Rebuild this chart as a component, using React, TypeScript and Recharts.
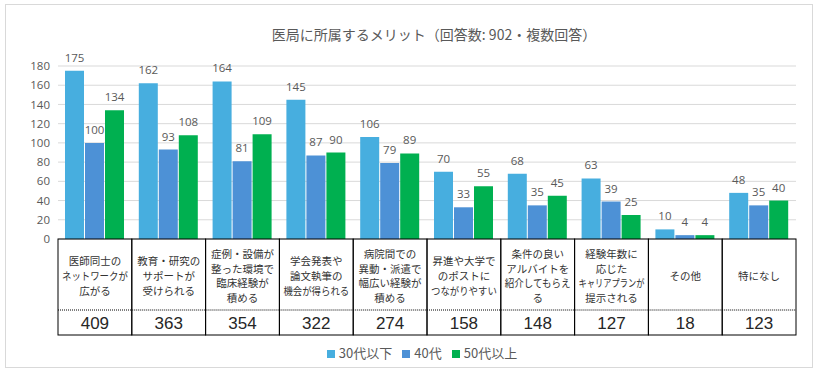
import React from "react";
import { BarChart, Bar, XAxis, YAxis, CartesianGrid, LabelList, Legend } from "recharts";

const categories = [
  "医師同士の\nネットワークが\n広がる",
  "教育・研究の\nサポートが\n受けられる",
  "症例・設備が\n整った環境で\n臨床経験が\n積める",
  "学会発表や\n論文執筆の\n機会が得られる",
  "病院間での\n異動・派遣で\n幅広い経験が\n積める",
  "昇進や大学で\nのポストに\nつながりやすい",
  "条件の良い\nアルバイトを\n紹介してもらえ\nる",
  "経験年数に\n応じた\nキャリアプランが\n提示される",
  "その他",
  "特になし",
];
const under30s = [175, 162, 164, 145, 106, 70, 68, 63, 10, 48];
const forties = [100, 93, 81, 87, 79, 33, 35, 39, 4, 35];
const over50s = [134, 108, 109, 90, 89, 55, 45, 25, 4, 40];
const totals = [409, 363, 354, 322, 274, 158, 148, 127, 18, 123];
const yTicks = [0, 20, 40, 60, 80, 100, 120, 140, 160, 180];

const title = "医局に所属するメリット（回答数: 902・複数回答）";

const data = categories.map((c, i) => ({
  name: c,
  a: under30s[i],
  b: forties[i],
  c: over50s[i],
  total: totals[i],
}));

const FONT = '"Noto Sans CJK JP", "Noto Sans", sans-serif';
const NUM_FONT = '"Open Sans", "Noto Sans", sans-serif';
const TOTAL_FONT = '"Liberation Sans", "DejaVu Sans", sans-serif';
const W = 820;
const H = 374;
const M = { top: 66, right: 24, left: 18, bottom: 12 };
const CELL_W = (W - M.left - 40 - M.right) / categories.length;
const TABLE_H = 96;
const LABEL_H = 71;

const estWidth = (s: string, fs: number) => {
  let w = 0;
  for (const ch of s) w += ch.charCodeAt(0) < 256 ? fs * 0.55 : fs;
  return w;
};

const TableTick = (props: any) => {
  const { x, y, payload } = props;
  const idx = payload.index;
  const lines = String(payload.value).split("\n");
  const fs = 10.5;
  const lh = 14.7;
  const cy = y + LABEL_H / 2 + 1;
  const startY = cy - ((lines.length - 1) * lh) / 2;
  const left = x - CELL_W / 2;
  return (
    <g>
      <rect x={left} y={y} width={CELL_W} height={TABLE_H} fill="none" stroke="#000" strokeWidth={1} />
      {lines.map((ln, i) => {
        const w = estWidth(ln, fs);
        const extra = w > CELL_W - 6 ? { textLength: CELL_W - 8, lengthAdjust: "spacingAndGlyphs" } : {};
        return (
          <text
            key={i}
            x={x}
            y={startY + i * lh}
            textAnchor="middle"
            dominantBaseline="central"
            fontSize={fs}
            fill="#333"
            fontFamily={FONT}
            {...(extra as any)}
          >
            {ln}
          </text>
        );
      })}
      <line x1={left} x2={left + CELL_W} y1={y + LABEL_H} y2={y + LABEL_H} stroke="#000" strokeWidth={1} strokeDasharray="1 1" />
      <text
        x={x}
        y={y + LABEL_H + (TABLE_H - LABEL_H) / 2 + 1}
        textAnchor="middle"
        dominantBaseline="central"
        fontSize={17}
        fill="#262626"
        fontFamily={TOTAL_FONT}
      >
        {totals[idx]}
      </text>
    </g>
  );
};

const labelStyle = { fill: "#595959", fontSize: 11.5, fontFamily: NUM_FONT };

export default function App() {
  return (
    <div style={{ position: "absolute", left: 0, top: 0, width: W, height: H, background: "#fff", fontFamily: FONT }}>
      <div
        style={{
          position: "absolute",
          left: 5,
          top: 4,
          width: 808,
          height: 364,
          border: "1px solid #D9D9D9",
          boxSizing: "border-box",
        }}
      />
      <div
        style={{
          position: "absolute",
          left: 0,
          width: W,
          top: 24,
          textAlign: "center",
          paddingLeft: 48,
          boxSizing: "border-box",
          fontSize: 14,
          color: "#595959",
          fontFamily: FONT,
          lineHeight: "20px",
        }}
      >
        {title}
      </div>
      <div style={{ position: "absolute", left: 0, top: 0 }}>
        <BarChart width={W} height={H} data={data} margin={M} barCategoryGap={7} barGap={1}>
          <CartesianGrid horizontal vertical={false} stroke="#D9D9D9" />
          <XAxis
            dataKey="name"
            axisLine={false}
            tickLine={false}
            tickSize={0}
            tickMargin={0}
            height={104}
            interval={0}
            tick={<TableTick />}
          />
          <YAxis
            domain={[0, 180]}
            ticks={yTicks}
            interval={0}
            axisLine={false}
            tickLine={false}
            width={40}
            tick={{ fill: "#595959", fontSize: 11.5, fontFamily: NUM_FONT }}
          />
          <Legend
            verticalAlign="bottom"
            align="center"
            iconType="square"
            iconSize={8}
            wrapperStyle={{ fontSize: 13, fontFamily: FONT, paddingLeft: 20 }}
            formatter={(v: any) => <span style={{ color: "#595959" }}>{v}</span>}
          />
          <Bar dataKey="a" name="30代以下" fill="#47AEDF" isAnimationActive={false}>
            <LabelList dataKey="a" position="top" offset={9} style={labelStyle} />
          </Bar>
          <Bar dataKey="b" name="40代" fill="#4D91D6" isAnimationActive={false}>
            <LabelList dataKey="b" position="top" offset={9} style={labelStyle} />
          </Bar>
          <Bar dataKey="c" name="50代以上" fill="#00B050" isAnimationActive={false}>
            <LabelList dataKey="c" position="top" offset={9} style={labelStyle} />
          </Bar>
        </BarChart>
      </div>
    </div>
  );
}
